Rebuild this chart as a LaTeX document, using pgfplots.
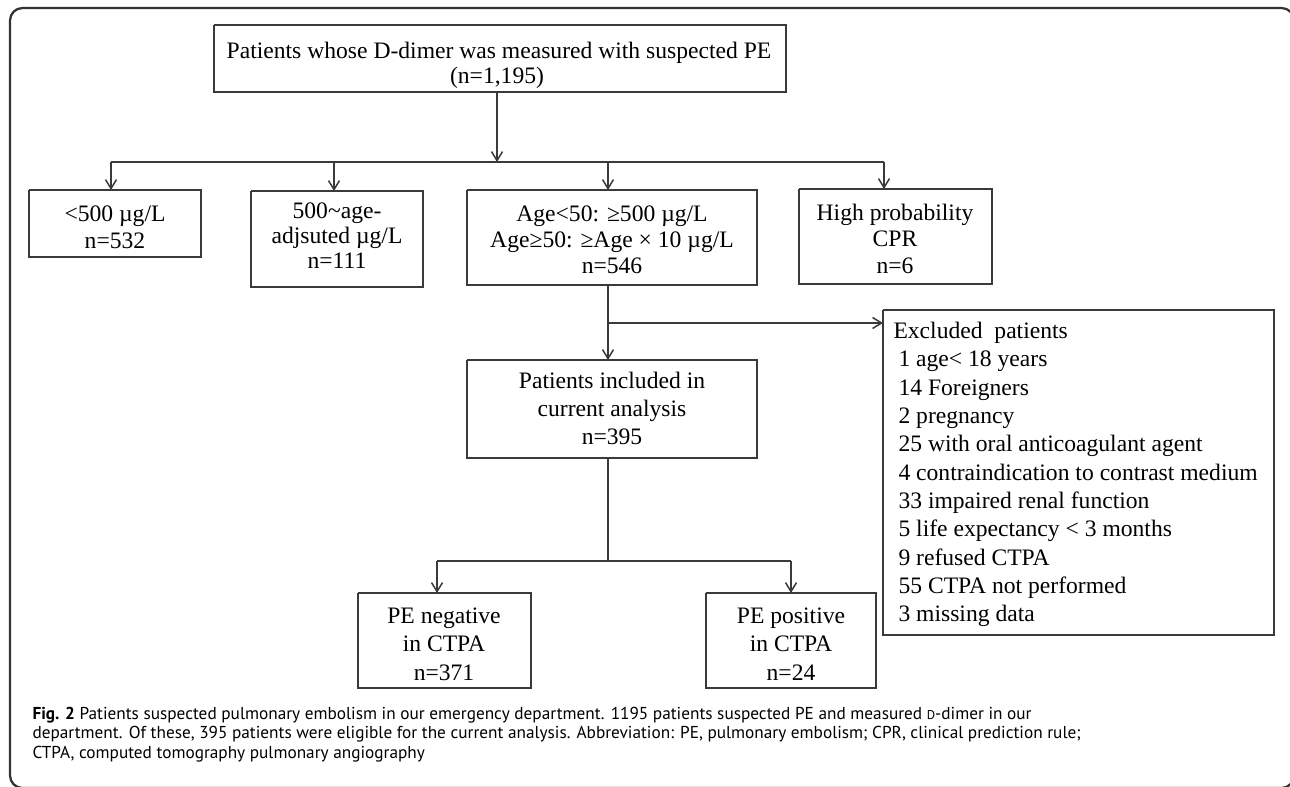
\documentclass[border=0pt]{standalone}
\usepackage{fontspec}
\setmainfont{Liberation Serif}
\newfontfamily\capfont{PT Sans}
\usepackage{pgfplots}
\pgfplotsset{compat=1.18}
\usetikzlibrary{arrows.meta}
\definecolor{ln}{HTML}{3A3A3A}
\tikzset{cp/.style={anchor=base west,inner sep=0pt,font=\capfont\fontsize{6.9}{8}\selectfont}}
\newcommand{\TT}[3]{\node[anchor=base,inner sep=0pt] at (axis cs:#1,#2) {#3};}
\newcommand{\LL}[3]{\node[anchor=base west,inner sep=0pt] at (axis cs:#1,#2) {#3};}
\begin{document}
\begin{tikzpicture}
\begin{axis}[
  x=0.4pt, y=0.4pt,
  xmin=0, xmax=1290, ymin=0, ymax=787,
  y dir=reverse,
  hide axis,
  clip=true,
  font=\fontsize{9.44}{11}\selectfont,
]
% invisible extent
\addplot[draw=none] coordinates {(0,0) (1290,787)};
% outer frame
\addplot[black!80, line width=0.9pt, rounded corners=5pt] coordinates {(10,700) (10,8) (1294,8) (1294,788) (10,788) (10,700)};
% boxes
\pgfplotsset{bx/.style={ln, line width=0.6pt, line join=miter}}
\addplot[bx] coordinates {(214,25) (786,25) (786,92) (214,92) (214,25)};
\addplot[bx] coordinates {(29,190) (201,190) (201,257) (29,257) (29,190)};
\addplot[bx] coordinates {(251,191) (423,191) (423,287) (251,287) (251,191)};
\addplot[bx] coordinates {(467,190) (757,190) (757,285) (467,285) (467,190)};
\addplot[bx] coordinates {(799,189) (992,189) (992,284) (799,284) (799,189)};
\addplot[bx] coordinates {(883,310) (1274,310) (1274,635) (883,635) (883,310)};
\addplot[bx] coordinates {(467,360) (757,360) (757,458) (467,458) (467,360)};
\addplot[bx] coordinates {(358,593) (531,593) (531,688) (358,688) (358,593)};
\addplot[bx] coordinates {(706,593) (876,593) (876,688) (706,688) (706,593)};
% connectors
\pgfplotsset{ar/.style={ln, line width=0.6pt, -{Straight Barb[length=3.6pt,width=4.4pt]}}}
\addplot[ar] coordinates {(497,92) (497,162)};
\addplot[ln, line width=0.6pt] coordinates {(111,162) (884,162)};
\addplot[ar] coordinates {(111,162) (111,190)};
\addplot[ar] coordinates {(334,162) (334,191)};
\addplot[ar] coordinates {(608,162) (608,190)};
\addplot[ar] coordinates {(884,162) (884,189)};
\addplot[ar] coordinates {(608,285) (608,360)};
\addplot[ar] coordinates {(608,323) (883,323)};
\addplot[ln, line width=0.6pt] coordinates {(608,458) (608,561)};
\addplot[ln, line width=0.6pt] coordinates {(437,561) (791,561)};
\addplot[ar] coordinates {(437,561) (437,593)};
\addplot[ar] coordinates {(791,561) (791,593)};
% texts
\TT{499}{58}{Patients whose D-dimer was measured with suspected PE}
\TT{497}{83}{(n=1,195)}
\TT{115}{221}{<500 µg/L}
\TT{115}{248}{n=532}
\TT{337}{218}{500\textasciitilde age-}
\TT{337}{243}{adjsuted µg/L}
\TT{337}{268}{n=111}
\TT{612}{221}{Age<50: ≥500 µg/L}
\TT{612}{247}{Age≥50: ≥Age × 10 µg/L}
\TT{612}{273}{n=546}
\TT{895}{220}{High probability}
\TT{895}{246}{CPR}
\TT{895}{273}{n=6}
\TT{612}{388}{Patients included in}
\TT{612}{416}{current analysis}
\TT{612}{444}{n=395}
\LL{893}{338}{Excluded\ \ patients}
\LL{898}{366}{1 age< 18 years}
\LL{898}{395}{14 Foreigners}
\LL{898}{423}{2 pregnancy}
\LL{898}{451}{25 with oral anticoagulant agent}
\LL{898}{480}{4 contraindication to contrast medium}
\LL{898}{508}{33 impaired renal function}
\LL{898}{536}{5 life expectancy < 3 months}
\LL{898}{565}{9 refused CTPA}
\LL{898}{593}{55 CTPA not performed}
\LL{898}{621}{3 missing data}
\TT{444}{623}{PE negative}
\TT{444}{651}{in CTPA}
\TT{444}{680}{n=371}
\TT{791}{623}{PE positive}
\TT{791}{651}{in CTPA}
\TT{791}{680}{n=24}
% caption
\node[cp] at (axis cs:32,719) {\textbf{Fig. 2} Patients suspected pulmonary embolism in our emergency department. 1195 patients suspected PE and measured {\fontsize{5.1}{6}\selectfont D}-dimer in our};
\node[cp] at (axis cs:32,738.5) {department. Of these, 395 patients were eligible for the current analysis. Abbreviation: PE, pulmonary embolism; CPR, clinical prediction rule;};
\node[cp] at (axis cs:32,758) {CTPA, computed tomography pulmonary angiography};
\end{axis}
\end{tikzpicture}
\end{document}
